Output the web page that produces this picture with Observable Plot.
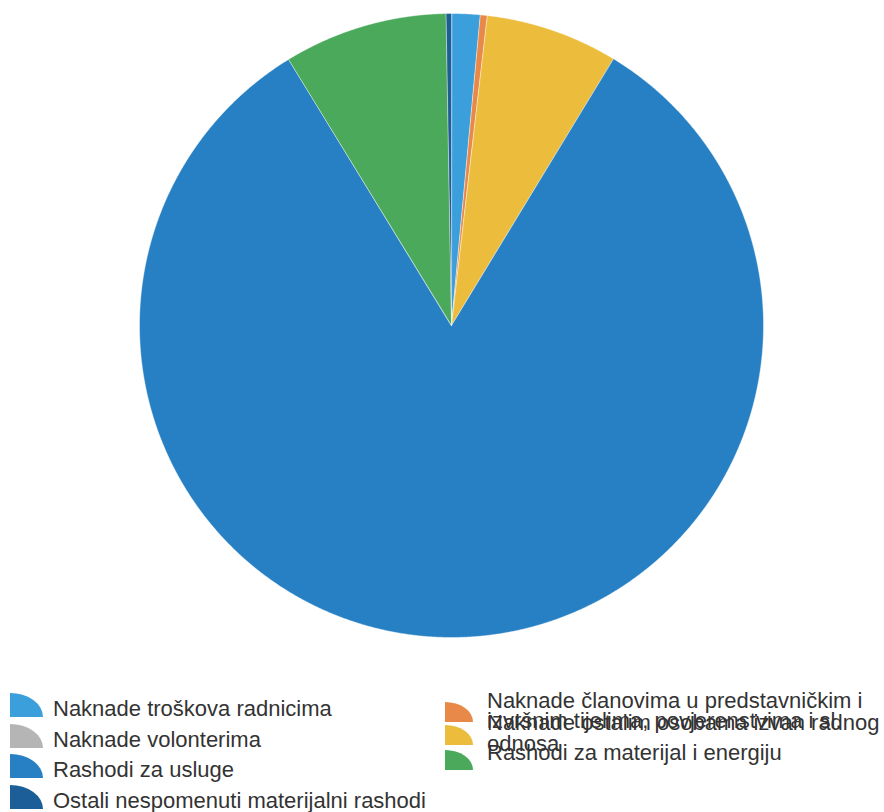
<!DOCTYPE html>
<html>
<head>
<meta charset="utf-8">
<script src="https://cdn.jsdelivr.net/npm/d3@7"></script>
<script src="https://cdn.jsdelivr.net/npm/@observablehq/plot@0.6"></script>
<style>
  html, body { margin: 0; padding: 0; background: #ffffff; }
  #wrap { width: 884px; height: 812px; position: relative; overflow: hidden; }
  #legend text { font-family: "Liberation Sans", Arial, sans-serif; font-size: 22px; fill: #333333; }
</style>
</head>
<body>
<div id="wrap"></div>
<script>
// ---- data (shares in %) ----
const categories = [
  "Naknade troškova radnicima",
  "Naknade članovima u predstavničkim i izvršnim tijelima, povjerenstvima i sl.",
  "Naknade volonterima",
  "Naknade ostalim osobama izvan radnog odnosa",
  "Rashodi za usluge",
  "Rashodi za materijal i energiju",
  "Ostali nespomenuti materijalni rashodi"
];
const shares = [1.47, 0.36, 0, 6.86, 82.56, 8.47, 0.28];
const colors = ["#3b9fdc", "#e8894a", "#b5b5b5", "#ecbd3c", "#2680c3", "#4aa95a", "#1c5f98"];

// legend lines (text as shown, wrapped like the original)
const legendLeft = [
  {cat: 0, lines: ["Naknade troškova radnicima"]},
  {cat: 2, lines: ["Naknade volonterima"]},
  {cat: 4, lines: ["Rashodi za usluge"]},
  {cat: 6, lines: ["Ostali nespomenuti materijalni rashodi"]}
];
const legendRight = [
  {cat: 1, lines: ["Naknade članovima u predstavničkim i", "izvršnim tijelima, povjerenstvima i sl."]},
  {cat: 3, lines: ["Naknade ostalim osobama izvan radnog", "odnosa"]},
  {cat: 5, lines: ["Rashodi za materijal i energiju"]}
];

// ---- build slice outlines from the data via d3.pie ----
const table = categories.map((c, i) => ({cat: c, value: shares[i]}));
const arcs = d3.pie().sort(null).value(d => d.value)(table);
const pts = [];
for (const a of arcs) {
  if (a.endAngle - a.startAngle <= 0) continue;
  const n = Math.max(2, Math.ceil((a.endAngle - a.startAngle) / (Math.PI / 720)));
  pts.push({cat: a.data.cat, x: 0, y: 0});
  for (let k = 0; k <= n; k++) {
    const t = a.startAngle + (a.endAngle - a.startAngle) * k / n;
    pts.push({cat: a.data.cat, x: Math.sin(t), y: Math.cos(t)});
  }
}

const W = 884, H = 650;
const cx = 451, cy = 325, r = 312;

const chart = Plot.plot({
  width: W,
  height: H,
  marginLeft: cx - r,
  marginRight: W - (cx + r),
  marginTop: cy - r,
  marginBottom: H - (cy + r),
  x: {domain: [-1, 1], axis: null},
  y: {domain: [-1, 1], axis: null},
  color: {domain: categories, range: colors},
  marks: [
    Plot.line(pts, {
      x: "x", y: "y", z: "cat", fill: "cat",
      stroke: "#ffffff", strokeWidth: 0.8, strokeOpacity: 0.55,
      curve: "linear-closed"
    })
  ]
});
chart.style.display = "block";
document.getElementById("wrap").appendChild(chart);

// ---- legend (below the plot) ----
const LH = 812 - H;
const svg = d3.select("#wrap").append("svg")
  .attr("id", "legend")
  .attr("width", W).attr("height", LH)
  .style("display", "block");

function swatch(g, x0, yb, w, h, color) {
  g.append("path")
    .attr("d", `M${x0},${yb} L${x0},${yb - h} A${w},${h} 0 0 1 ${x0 + w},${yb} Z`)
    .attr("fill", color);
}

// left column
const leftBase = [66, 97, 127, 158];
legendLeft.forEach((item, i) => {
  swatch(svg, 10, leftBase[i] + 1, 33, 24, colors[item.cat]);
  svg.append("text").attr("x", 53).attr("y", leftBase[i]).text(item.lines[0]);
});

// right column (entries overlap as in the original)
const rightBase = [[58, 78], [80, 101], [110]];
const rightSw = [72, 95, 120];
legendRight.forEach((item, i) => {
  swatch(svg, 445, rightSw[i], 28, 20, colors[item.cat]);
  item.lines.forEach((ln, j) => {
    svg.append("text").attr("x", 487).attr("y", rightBase[i][j]).text(ln);
  });
});
</script>
</body>
</html>
